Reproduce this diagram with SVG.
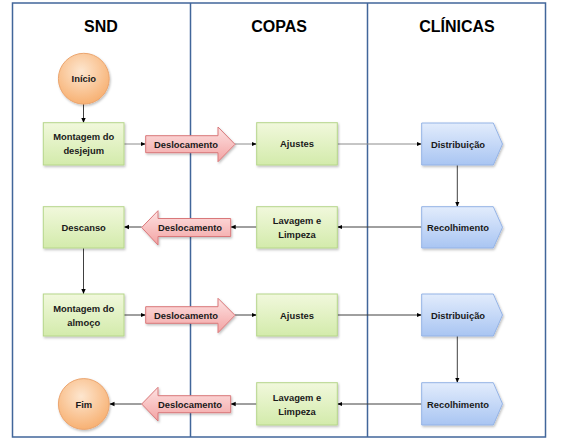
<svg xmlns="http://www.w3.org/2000/svg" width="569" height="445" viewBox="0 0 569 445">
<defs>
<linearGradient id="gGreen" x1="0" y1="0" x2="0" y2="1"><stop offset="0" stop-color="#f1f8dc"/><stop offset="1" stop-color="#d3ebab"/></linearGradient>
<linearGradient id="gBlue" x1="0" y1="0" x2="0" y2="1"><stop offset="0" stop-color="#e2ecfc"/><stop offset="1" stop-color="#a9c5f2"/></linearGradient>
<linearGradient id="gRed" x1="0" y1="0" x2="0" y2="1"><stop offset="0" stop-color="#fde2e2"/><stop offset="1" stop-color="#f3a3a3"/></linearGradient>
<radialGradient id="gOrange" cx="0.45" cy="0.35" r="0.7"><stop offset="0" stop-color="#fde6cf"/><stop offset="1" stop-color="#f7ad6c"/></radialGradient>
<filter id="sh" x="-20%" y="-20%" width="140%" height="150%"><feDropShadow dx="1" dy="1.5" stdDeviation="1.2" flood-color="#000" flood-opacity="0.25"/></filter>
<marker id="ah" markerWidth="6" markerHeight="6" refX="5" refY="3" orient="auto" markerUnits="userSpaceOnUse"><path d="M0,0.8 L5,3 L0,5.2 Z" fill="#000"/></marker>
<style>
.lane{fill:none;stroke:#41669a;stroke-width:1.5}
.hdr{font-family:"Liberation Sans",Arial,sans-serif;font-weight:bold;font-size:16px;fill:#000;text-anchor:middle}
.t{font-family:"Liberation Sans",Arial,sans-serif;font-weight:bold;font-size:9.4px;fill:#1a1a1a;text-anchor:middle;dominant-baseline:central}
.green{fill:url(#gGreen);stroke:#b6d68a;stroke-width:1;filter:url(#sh)}
.blue{fill:url(#gBlue);stroke:#94b3e6;stroke-width:1;filter:url(#sh)}
.red{fill:url(#gRed);stroke:#d9787a;stroke-width:1;filter:url(#sh)}
.orange{fill:url(#gOrange);stroke:#eba56f;stroke-width:1;filter:url(#sh)}
.c{fill:none;stroke:#404040;stroke-width:1;marker-end:url(#ah)}
.cg{fill:none;stroke:#8c8c8c;stroke-width:1;marker-end:url(#ah)}
</style>
</defs>
<rect x="0" y="0" width="569" height="445" fill="#fff"/>
<g id="lanes">
<rect class="lane" x="12.5" y="3" width="533" height="434"/>
<line class="lane" x1="190.5" y1="3" x2="190.5" y2="437"/>
<line class="lane" x1="367.5" y1="3" x2="367.5" y2="437"/>
<text class="hdr" x="101" y="32">SND</text>
<text class="hdr" x="279" y="32">COPAS</text>
<text class="hdr" x="457" y="32">CLÍNICAS</text>
</g>
<g id="connectors">
<line class="c" x1="83.5" y1="104" x2="83.5" y2="123"/>
<line class="cg" x1="124" y1="144" x2="145.7" y2="144"/>
<line class="cg" x1="235" y1="144" x2="256.7" y2="144"/>
<line class="cg" x1="337.3" y1="144" x2="421.7" y2="144"/>
<line class="c" x1="457.3" y1="165" x2="457.3" y2="206.7"/>
<line class="c" x1="421.7" y1="227" x2="337.3" y2="227"/>
<line class="c" x1="256.7" y1="227" x2="230.7" y2="227"/>
<line class="c" x1="141.7" y1="227" x2="124" y2="227"/>
<line class="c" x1="83.5" y1="248" x2="83.5" y2="294"/>
<line class="c" x1="124" y1="315" x2="145.7" y2="315"/>
<line class="c" x1="235" y1="315" x2="256.7" y2="315"/>
<line class="c" x1="337.3" y1="315" x2="421.7" y2="315"/>
<line class="c" x1="457.3" y1="336" x2="457.3" y2="382.7"/>
<line class="c" x1="421.7" y1="404" x2="337.3" y2="404"/>
<line class="c" x1="256.7" y1="404" x2="230.7" y2="404"/>
<line class="c" x1="141.7" y1="404" x2="109.5" y2="404"/>
</g>
<g id="inicio"><circle class="orange" cx="83.8" cy="78.7" r="25.4"/><text class="t" x="83.8" y="78.7">Início</text></g>
<g id="montagem-desjejum"><rect class="green" x="43.3" y="122.7" width="80.7" height="42.3"/><text class="t" x="83.7" y="136.7">Montagem do</text><text class="t" x="83.7" y="150.7">desjejum</text></g>
<g id="deslocamento-1"><path class="red" d="M145.7,135.7 H218 V127 L235,144.3 L218,161.7 V152.7 H145.7 Z"/><text class="t" x="186" y="144.3">Deslocamento</text></g>
<g id="ajustes-1"><rect class="green" x="256.7" y="122.7" width="80.6" height="42.3"/><text class="t" x="297" y="143.8">Ajustes</text></g>
<g id="distribuicao-1"><path class="blue" d="M421.7,123 H493.3 L502.5,144 L493.3,165 H421.7 Z"/><text class="t" x="458" y="144">Distribuição</text></g>
<g id="recolhimento-1"><path class="blue" d="M421.7,206.7 H493.3 L502.5,227.3 L493.3,248 H421.7 Z"/><text class="t" x="458" y="227.3">Recolhimento</text></g>
<g id="lavagem-1"><rect class="green" x="256.7" y="206.7" width="80.6" height="41.3"/><text class="t" x="297" y="220.7">Lavagem e</text><text class="t" x="297" y="234.5">Limpeza</text></g>
<g id="deslocamento-2"><path class="red" d="M230.7,218.5 H158 V210.7 L141.7,227.5 L158,245 V236.5 H230.7 Z"/><text class="t" x="190" y="227.5">Deslocamento</text></g>
<g id="descanso"><rect class="green" x="43.3" y="206.7" width="80.7" height="41.3"/><text class="t" x="83.7" y="227.3">Descanso</text></g>
<g id="montagem-almoco"><rect class="green" x="43.3" y="294" width="80.7" height="42"/><text class="t" x="83.7" y="308">Montagem do</text><text class="t" x="83.7" y="322">almoço</text></g>
<g id="deslocamento-3"><path class="red" d="M145.7,306.7 H218 V298.3 L235,315.3 L218,332.7 V323.3 H145.7 Z"/><text class="t" x="186" y="315">Deslocamento</text></g>
<g id="ajustes-2"><rect class="green" x="256.7" y="294" width="80.6" height="42"/><text class="t" x="297" y="315">Ajustes</text></g>
<g id="distribuicao-2"><path class="blue" d="M421.7,294 H493.3 L502.5,315 L493.3,336 H421.7 Z"/><text class="t" x="458" y="315">Distribuição</text></g>
<g id="recolhimento-2"><path class="blue" d="M421.7,382.7 H493.3 L502.5,403.8 L493.3,425 H421.7 Z"/><text class="t" x="458" y="404">Recolhimento</text></g>
<g id="lavagem-2"><rect class="green" x="256.7" y="382.7" width="80.6" height="42.3"/><text class="t" x="297" y="397">Lavagem e</text><text class="t" x="297" y="411">Limpeza</text></g>
<g id="deslocamento-4"><path class="red" d="M230.7,395.7 H158 V387.3 L141.7,404 L158,421 V412.7 H230.7 Z"/><text class="t" x="190" y="404">Deslocamento</text></g>
<g id="fim"><circle class="orange" cx="83.8" cy="404" r="25.4"/><text class="t" x="83.8" y="404">Fim</text></g>
</svg>
